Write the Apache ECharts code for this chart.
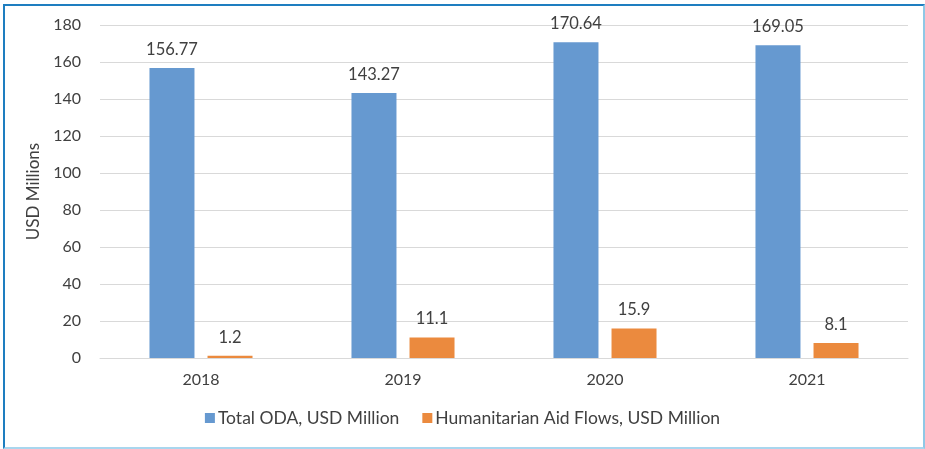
<!DOCTYPE html>
<html><head><meta charset="utf-8">
<script src="https://cdn.jsdelivr.net/npm/echarts@6/dist/echarts.min.js"></script>
<style>
html,body{margin:0;padding:0;background:#fff;}
#c{position:absolute;left:0;top:0;width:925px;height:449px;}
#frame{position:absolute;left:3px;top:4px;width:918px;height:441px;border-top:2px solid #1E7EC0;border-left:2px solid #1E7EC0;border-right:2px solid #8FC8E6;border-bottom:2px solid #A9D6EE;pointer-events:none;}
</style></head>
<body>
<div id="c"></div><div id="frame"></div>
<script>
const categories = ['2018', '2019', '2020', '2021'];
const totalODA = [156.77, 143.27, 170.64, 169.05];
const humanitarian = [1.2, 11.1, 15.9, 8.1];
const seriesNames = ['Total ODA, USD Million', 'Humanitarian Aid Flows, USD Million'];
const yTicks = { min: 0, max: 180, interval: 20 };

const font = 'Lato, "Open Sans", sans-serif';
const chart = echarts.init(document.getElementById('c'), null, { renderer: 'canvas' });
const labelStyle = { show: true, position: 'top', distance: 10, color: '#404040', fontSize: 16.5, fontFamily: font };
chart.setOption({
  animation: false,
  textStyle: { fontFamily: font },
  grid: { left: 100, right: 17, top: 25, bottom: 91, containLabel: false },
  legend: {
    bottom: 17, left: 'center', itemWidth: 10, itemHeight: 10, itemGap: 23,
    icon: 'rect',
    textStyle: { color: '#404040', fontSize: 17.5, fontFamily: font, padding: [0, 0, 0, -2] },
    data: seriesNames
  },
  xAxis: {
    type: 'category', data: categories,
    axisLine: { lineStyle: { color: '#D9D9D9', width: 1 } },
    axisTick: { show: false },
    axisLabel: { color: '#404040', fontSize: 16, fontFamily: font, margin: 14 }
  },
  yAxis: {
    type: 'value', min: yTicks.min, max: yTicks.max, interval: yTicks.interval,
    name: 'USD Millions', nameLocation: 'middle', nameGap: 52, nameRotate: 90,
    nameTextStyle: { color: '#404040', fontSize: 17, fontFamily: font },
    axisLine: { show: false }, axisTick: { show: false },
    axisLabel: { color: '#404040', fontSize: 16, fontFamily: font, margin: 19 },
    splitLine: { lineStyle: { color: '#D9D9D9', width: 1 } }
  },
  series: [
    { name: seriesNames[0], type: 'bar', data: totalODA, barWidth: 45, barGap: '29%',
      itemStyle: { color: '#6699D0' }, label: labelStyle },
    { name: seriesNames[1], type: 'bar', data: humanitarian, barWidth: 45,
      itemStyle: { color: '#EB8A3E' }, label: labelStyle }
  ]
});
</script>
</body></html>
